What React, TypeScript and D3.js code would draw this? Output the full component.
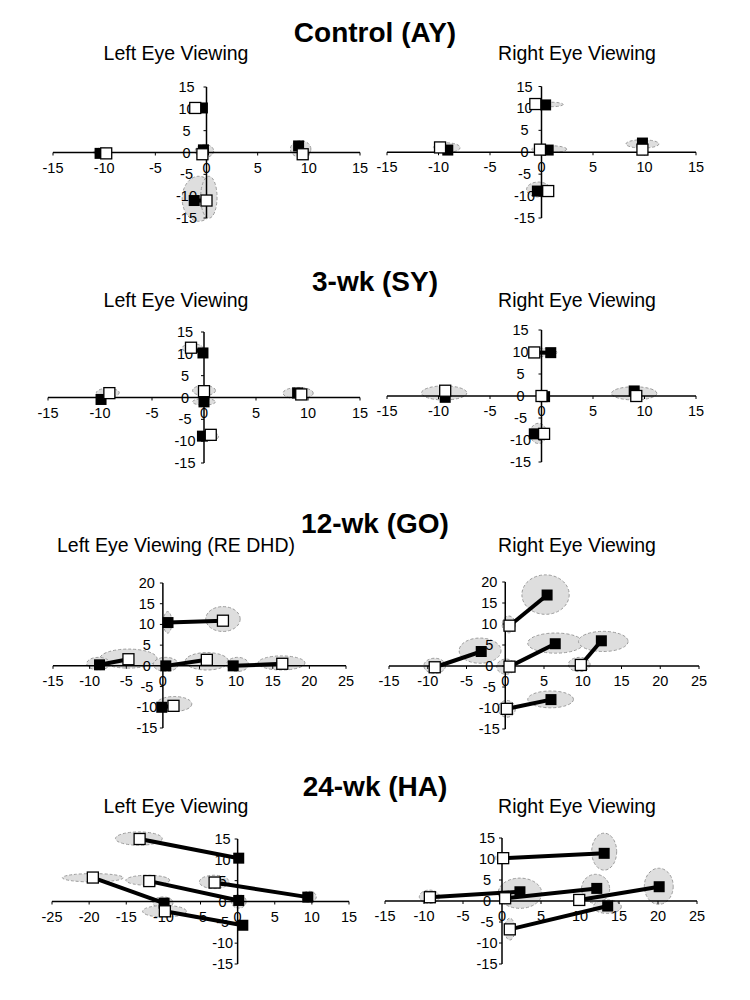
import React from "react";
import * as d3 from "d3";

type Pt = [number, number];
// [cx, cy, rx, ry] in degrees
type Spread = [number, number, number, number];

// Control (AY)
const ayLeftFilled: Pt[] = [[-0.4, 10.2], [-0.3, 0.6], [9.0, 1.5], [-10.4, -0.2], [-1.2, -11.0]];
const ayLeftOpen: Pt[] = [[-1.1, 10.2], [-0.4, -0.4], [9.4, -0.4], [-9.8, -0.2], [0.0, -11.0]];
const ayLeftSpread: Spread[] = [[-10.4, 0, 0.6, 1.0], [-0.2, 0.35, 0.9, 1.5], [9.2, 0.8, 1.0, 1.9], [-0.75, -10.6, 1.63, 5.15], [0.23, -10.25, 0.8, 4.8]];
const ayRightFilled: Pt[] = [[0.4, 10.8], [0.65, 0.5], [-9.1, 0.5], [9.8, 2.1], [-0.4, -8.85]];
const ayRightOpen: Pt[] = [[-0.6, 11.0], [-0.15, 0.6], [-9.85, 1.1], [9.8, 0.6], [0.65, -8.85]];
const ayRightSpread: Spread[] = [[1.0, 10.9, 1.1, 0.5], [0.75, 0.7, 1.7, 0.8], [-9.2, 1.05, 1.3, 1.1], [9.8, 1.9, 1.6, 0.95], [-0.3, -8.5, 1.15, 1.7]];

// 3-wk (SY)
const syLeftFilled: Pt[] = [[-0.1, 10.2], [0, -1.0], [-9.9, -0.45], [9.0, 1.05], [-0.15, -8.85]];
const syLeftOpen: Pt[] = [[-1.25, 11.4], [0, 1.45], [-9.1, 1.0], [9.35, 0.7], [0.65, -8.55]];
const syLeftSpread: Spread[] = [[-1.1, 11.3, 1.0, 1.0], [0, 1.6, 1.1, 1.15], [0, -1.0, 1.1, 0.75], [-9.25, 1.1, 1.1, 1.0], [9.05, 1.0, 1.45, 1.3], [0.6, -8.9, 0.8, 1.0]];
const syRightFilled: Pt[] = [[0.9, 9.85], [0.3, -0.15], [-9.35, -0.3], [9.0, 1.15], [-0.7, -8.6]];
const syRightOpen: Pt[] = [[-0.7, 9.9], [0, 0], [-9.35, 1.2], [9.2, 0], [0.25, -8.6]];
const syRightSpread: Spread[] = [[0.2, 9.9, 1.3, 0.95], [0, 0.2, 0.5, 1.1], [-9.45, 0.7, 2.2, 1.6], [9.0, 0.6, 2.2, 1.5], [-0.3, -8.5, 0.8, 2.3]];

// 12-wk (GO)
const goLeftFilled: Pt[] = [[0.7, 10.45], [-8.65, 0.25], [0.4, 0], [9.6, 0], [-0.15, -10.0]];
const goLeftOpen: Pt[] = [[8.2, 10.9], [-4.7, 1.6], [6.0, 1.45], [16.3, 0.5], [1.45, -9.65]];
const goLeftSpread: Spread[] = [[0.65, 10.5, 0.57, 2.6], [8.2, 11.3, 2.35, 3.0], [-4.7, 1.75, 3.9, 2.3], [-8.8, 0.55, 1.6, 1.5], [6.0, 1.1, 2.95, 2.1], [0.4, 0.35, 1.7, 1.7], [16.2, 0.7, 3.2, 1.7], [10.2, 0.35, 1.5, 1.7], [1.55, -9.2, 2.4, 1.8]];
const goRightFilled: Pt[] = [[5.4, 16.9], [-3.1, 3.45], [6.45, 5.3], [12.4, 6.0], [5.9, -8.0]];
const goRightOpen: Pt[] = [[0.55, 9.6], [-9.1, -0.3], [0.55, -0.15], [9.75, 0.25], [0.2, -10.2]];
const goRightSpread: Spread[] = [[5.2, 17.0, 3.05, 4.7], [0.45, 9.9, 0.85, 2.0], [-3.25, 3.65, 2.7, 3.0], [-9.1, 0.05, 1.4, 1.8], [6.5, 5.45, 3.6, 2.4], [0.1, -0.15, 1.2, 1.8], [12.65, 5.85, 3.2, 2.4], [9.55, 0.35, 1.4, 1.7], [5.85, -7.95, 2.95, 2.0], [0.2, -10.2, 1.1, 2.0]];

// 24-wk (HA)
const haLeftFilled: Pt[] = [[0.15, 10.4], [-9.9, -0.4], [0.15, 0.25], [9.45, 1.05], [0.7, -5.7]];
const haLeftOpen: Pt[] = [[-13.2, 15.0], [-19.5, 5.75], [-11.9, 4.9], [-3.1, 4.55], [-9.8, -2.35]];
const haLeftSpread: Spread[] = [[-13.3, 15.1, 3.15, 1.6], [-19.5, 5.7, 4.1, 1.0], [-10.05, -0.3, 1.35, 1.4], [-12.1, 5.1, 2.95, 1.2], [0.15, 0, 1.0, 1.6], [-3.15, 4.7, 2.0, 1.6], [9.6, 1.15, 1.0, 1.3], [-9.85, -2.35, 2.95, 1.4]];
const haRightFilled: Pt[] = [[13.1, 11.35], [2.3, 2.2], [12.15, 3.0], [20.15, 3.4], [13.55, -1.2]];
const haRightOpen: Pt[] = [[0.15, 10.2], [-9.25, 0.9], [0.4, 0.65], [9.9, 0.25], [1.0, -6.75]];
const haRightSpread: Spread[] = [[13.1, 11.75, 1.6, 4.4], [-0.05, 10.25, 0.85, 0.9], [-9.3, 1.0, 1.3, 1.6], [2.3, 1.85, 2.8, 3.6], [12.0, 2.9, 1.8, 3.45], [20.1, 3.5, 1.85, 4.3], [13.5, -1.35, 1.8, 1.6], [1.0, -6.7, 0.65, 2.6]];

const rowTitles = ["Control (AY)", "3-wk (SY)", "12-wk (GO)", "24-wk (HA)"];
const leftLabels = ["Left Eye Viewing", "Left Eye Viewing", "Left Eye Viewing (RE DHD)", "Left Eye Viewing"];
const rightLabel = "Right Eye Viewing";

const FONT = "'Liberation Sans', Arial, sans-serif";

const rowLayout = [
  { titleY: 42, subY: 60 },
  { titleY: 291, subY: 307 },
  { titleY: 533, subY: 552 },
  { titleY: 796, subY: 813 },
];

const panels = [
  { row: 0, side: 0, xd: [-15, 15], xr: [53, 360], yd: [-15, 15], yr: [218, 87], lab: 20, filled: ayLeftFilled, open: ayLeftOpen, spread: ayLeftSpread },
  { row: 0, side: 1, xd: [-15, 15], xr: [387, 696], yd: [-15, 15], yr: [218, 86.5], lab: 17, filled: ayRightFilled, open: ayRightOpen, spread: ayRightSpread },
  { row: 1, side: 0, xd: [-15, 15], xr: [48, 360], yd: [-15, 15], yr: [463, 332], lab: 19, filled: syLeftFilled, open: syLeftOpen, spread: syLeftSpread },
  { row: 1, side: 1, xd: [-15, 15], xr: [387, 696], yd: [-15, 15], yr: [462, 330], lab: 21, filled: syRightFilled, open: syRightOpen, spread: syRightSpread },
  { row: 2, side: 0, xd: [-15, 25], xr: [53, 346], yd: [-15, 20], yr: [728, 583], lab: 16, filled: goLeftFilled, open: goLeftOpen, spread: goLeftSpread },
  { row: 2, side: 1, xd: [-15, 25], xr: [389, 699], yd: [-15, 20], yr: [729, 582], lab: 16, filled: goRightFilled, open: goRightOpen, spread: goRightSpread },
  { row: 3, side: 0, xd: [-25, 15], xr: [52, 349], yd: [-15, 15], yr: [964, 839], lab: 15, filled: haLeftFilled, open: haLeftOpen, spread: haLeftSpread },
  { row: 3, side: 1, xd: [-15, 25], xr: [385, 697], yd: [-15, 15], yr: [964, 838], lab: 15, filled: haRightFilled, open: haRightOpen, spread: haRightSpread },
];

const SQ = 11;

function Panel({ p }: { p: (typeof panels)[number] }) {
  const x = d3.scaleLinear().domain(p.xd).range(p.xr);
  const y = d3.scaleLinear().domain(p.yd).range(p.yr);
  const xTicks = d3.range(p.xd[0], p.xd[1] + 1, 5);
  const yTicks = d3.range(p.yd[0], p.yd[1] + 1, 5);
  const x0 = x(0);
  const y0 = y(0);
  const line = d3.line<Pt>().x((d) => x(d[0])).y((d) => y(d[1]));

  return (
    <g>
      {p.spread.map(([cx, cy, rx, ry], i) => (
        <ellipse
          key={"e" + i}
          cx={x(cx)}
          cy={y(cy)}
          rx={x(cx + rx) - x(cx)}
          ry={y(cy) - y(cy + ry)}
          fill="#dedede"
          stroke="#9c9c9c"
          strokeWidth={1}
          strokeDasharray="3,2"
        />
      ))}
      {/* axes */}
      <line x1={p.xr[0]} x2={p.xr[1]} y1={y0} y2={y0} stroke="#000" strokeWidth={1.5} />
      <line x1={x0} x2={x0} y1={p.yr[0]} y2={p.yr[1]} stroke="#000" strokeWidth={1.5} />
      {xTicks.map((t) => (
        <g key={"xt" + t}>
          <line x1={x(t)} x2={x(t)} y1={y0} y2={y0 + 3} stroke="#000" strokeWidth={1} />
          <text x={x(t)} y={y0 + 20} textAnchor="middle" fontSize={14.5} fontFamily={FONT}>
            {t}
          </text>
        </g>
      ))}
      {yTicks.map((t) => (
        <g key={"yt" + t}>
          <line x1={x0 - 3} x2={x0} y1={y(t)} y2={y(t)} stroke="#000" strokeWidth={1} />
          <text x={x0 - p.lab} y={y(t) + 5} textAnchor="middle" fontSize={14.5} fontFamily={FONT}>
            {t}
          </text>
        </g>
      ))}
      {/* fixation pairs */}
      {p.filled.map((f, i) => (
        <path key={"l" + i} d={line([p.open[i], f]) || ""} stroke="#000" strokeWidth={4} fill="none" />
      ))}
      {p.filled.map((d, i) => (
        <rect key={"f" + i} x={x(d[0]) - SQ / 2} y={y(d[1]) - SQ / 2} width={SQ} height={SQ} fill="#000" />
      ))}
      {p.open.map((d, i) => (
        <rect
          key={"o" + i}
          x={x(d[0]) - SQ / 2}
          y={y(d[1]) - SQ / 2}
          width={SQ}
          height={SQ}
          fill="#fff"
          stroke="#000"
          strokeWidth={1.3}
        />
      ))}
    </g>
  );
}

export default function App() {
  return (
    <svg
      width={750}
      height={1000}
      style={{ position: "absolute", left: 0, top: 0, background: "#fff" }}
      fontFamily={FONT}
    >
      {rowTitles.map((t, r) => (
        <g key={t}>
          <text x={375} y={rowLayout[r].titleY} textAnchor="middle" fontSize={28} fontWeight="bold">
            {t}
          </text>
          <text x={176} y={rowLayout[r].subY} textAnchor="middle" fontSize={19.5}>
            {leftLabels[r]}
          </text>
          <text x={577} y={rowLayout[r].subY} textAnchor="middle" fontSize={19.5}>
            {rightLabel}
          </text>
        </g>
      ))}
      {panels.map((p, i) => (
        <Panel key={i} p={p} />
      ))}
    </svg>
  );
}
